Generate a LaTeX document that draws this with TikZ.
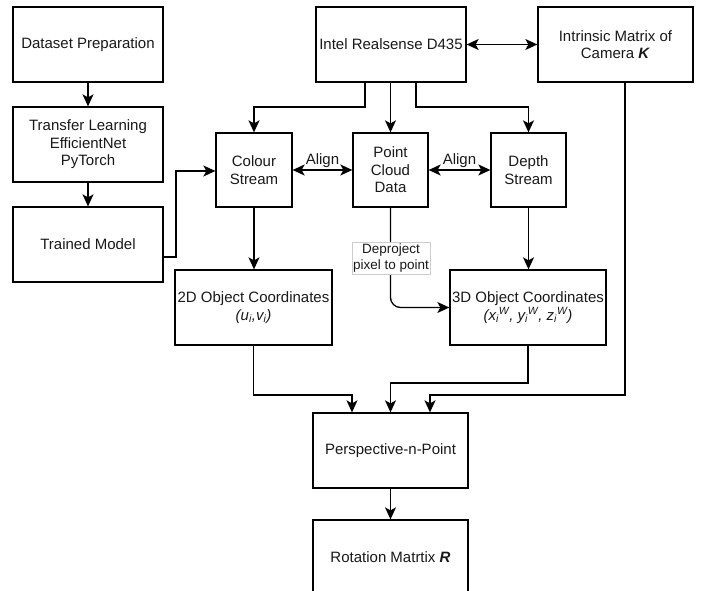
\documentclass[tikz,border=0pt]{standalone}
\usepackage{fontspec}
\setmainfont{Liberation Sans}
\usetikzlibrary{arrows.meta}
\begin{document}
\begin{tikzpicture}[x=1pt,y=-1pt,
  box/.style={draw=black,line width=1.3pt,fill=white,align=center,inner sep=0pt,
    font=\fontsize{15}{17.5}\selectfont,text=black!90},
  wide/.style={box,minimum width=150pt,minimum height=75pt},
  small/.style={box,minimum width=75pt,minimum height=74pt},
  conn/.style={line width=1.3pt,-{Stealth[length=12pt,width=11pt,inset=3pt]}},
  dconn/.style={line width=1.3pt,{Stealth[length=12pt,width=11pt,inset=3pt]}-{Stealth[length=12pt,width=11pt,inset=3pt]}},
  lbl/.style={font=\fontsize{15}{17.5}\selectfont,text=black!90,inner sep=1pt},
  dlbl/.style={draw=black!20,fill=white,line width=0.8pt,font=\fontsize{13.5}{16}\selectfont,
    text=black!90,align=center,inner sep=1pt,minimum width=76pt,minimum height=32pt}
]
\useasboundingbox (0,0) rectangle (713,591);

\node[wide] (ds) at (88,44.5) {Dataset Preparation};
\node[wide] (tl) at (88,144.5) {Transfer Learning\\EfficientNet\\PyTorch};
\node[wide] (tm) at (88,244.5) {Trained Model};
\node[wide] (intel) at (391,44.5) {Intel Realsense D435};
\node[wide,minimum width=155pt] (intr) at (615.5,44.5) {Intrinsic Matrix of\\Camera \textbf{\textit{K}}};
\node[small,minimum width=76pt] (cs) at (254,170) {Colour\\Stream};
\node[small] (pc) at (390.5,170) {Point\\Cloud\\Data};
\node[small] (dp) at (528.5,170) {Depth\\Stream};
\node[wide,minimum width=157pt] (c2) at (253.5,307.5) {2D Object Coordinates\\\textit{(u\textsubscript{i},v\textsubscript{i})}};
\node[wide,minimum width=156pt] (c3) at (528,307.5) {3D Object Coordinates\\\textit{(x\textsubscript{i}\textsuperscript{W}, y\textsubscript{i}\textsuperscript{W}, z\textsubscript{i}\textsuperscript{W})}};
\node[wide,minimum width=155pt] (pnp) at (390.5,450.5) {Perspective-n-Point};
\node[wide,minimum width=155pt] (rot) at (390.5,557.5) {Rotation Matrtix \textbf{\textit{R}}};

% left chain
\draw[conn] (ds) -- (tl);
\draw[conn] (tl) -- (tm);
\draw[conn] (tm.east |- 0,257) -| (176,171) -- (cs.west |- 0,171);

% intel outputs
\draw[conn] (365,82) |- (254,107) -- (cs.north);
\draw[conn] (intel.south -| pc.north) -- (pc.north);
\draw[conn] (416,82) |- (528.5,107) -- (dp.north);
\draw[dconn] (intel.east) -- (intr.west);

% align
\draw[dconn] (cs.east) -- node[lbl,above,yshift=1pt] {Align} (pc.west);
\draw[dconn] (pc.east) -- node[lbl,above,yshift=1pt] {Align} (dp.west);

% to coordinates
\draw[conn] (cs.south) -- (c2.north -| cs.south);
\draw[conn] (dp.south) -- (c3.north -| dp.south);
\coordinate (bend) at (390.5,307.5);
\draw[conn,rounded corners=10pt] (pc.south) -- (bend) -- (c3.west);
\node[dlbl] (dep) at (391,258) {Deproject\\pixel to point};

% to PnP
\draw[conn] (c2.south) |- (352,395) -- (pnp.north -| 352,0);
\draw[conn] (528,345) |- (390.5,383) -- (pnp.north);
\draw[conn] (625,82) |- (430,395) -- (pnp.north -| 430,0);
\draw[conn] (pnp) -- (rot);
\end{tikzpicture}
\end{document}
